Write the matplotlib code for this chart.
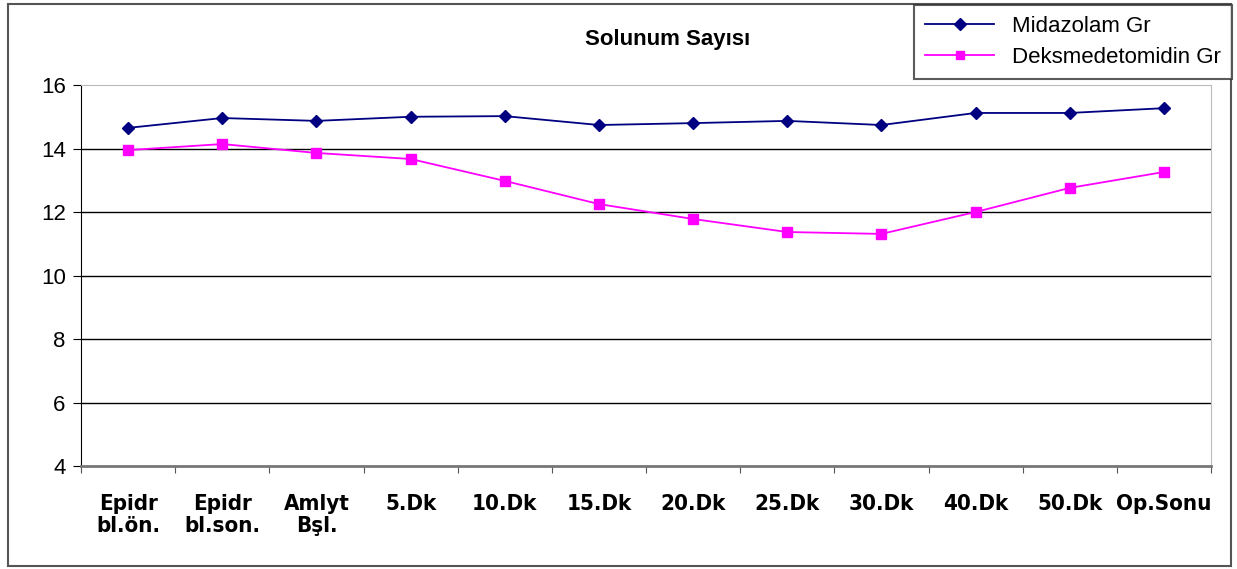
import matplotlib.pyplot as plt
from matplotlib.patches import Rectangle

# data
categories = ['Epidr\nbl.ön.', 'Epidr\nbl.son.', 'Amlyt\nBşl.', '5.Dk', '10.Dk', '15.Dk',
              '20.Dk', '25.Dk', '30.Dk', '40.Dk', '50.Dk', 'Op.Sonu']
midazolam = [14.65, 14.96, 14.87, 15.0, 15.02, 14.74, 14.8, 14.87, 14.74, 15.12, 15.12, 15.27]
dexmed = [13.95, 14.14, 13.86, 13.67, 12.98, 12.25, 11.78, 11.37, 11.31, 12.0, 12.76, 13.26]
yticks = [4, 6, 8, 10, 12, 14, 16]

fig = plt.figure(figsize=(12.37, 5.69), dpi=100)
ax = fig.add_axes([0.0655, 0.181, 0.9135, 0.6696])

x = range(len(categories))
ax.plot(x, midazolam, color='#000080', lw=1.3, marker='D', markersize=6.5, label='Midazolam Gr')
ax.plot(x, dexmed, color='#FF00FF', lw=1.3, marker='s', markersize=7, label='Deksmedetomidin Gr')

ax.set_xlim(-0.5, len(categories) - 0.5)
ax.set_ylim(4, 16)
ax.set_yticks(yticks)
ax.set_yticklabels([str(v) for v in yticks], fontsize=16, family=['Liberation Sans', 'DejaVu Sans'])
for v in yticks[1:-1]:
    ax.axhline(v, color='black', lw=1, zorder=0)

# category boundaries carry the ticks, labels sit in the middle
ax.set_xticks([i - 0.5 for i in range(len(categories) + 1)])
ax.set_xticklabels([])
ax.set_xticks(list(x), minor=True)
ax.set_xticklabels(categories, minor=True, fontsize=16, fontweight='bold', linespacing=1.15,
                   fontstretch='condensed', family=['DejaVu Sans'])
ax.tick_params(axis='x', which='minor', length=0, pad=20)
ax.tick_params(axis='x', which='major', length=5, color='#555555')
ax.tick_params(axis='y', length=6, color='black', pad=5)

ax.spines['left'].set_color('black')
ax.spines['bottom'].set_color('#777777')
ax.spines['bottom'].set_linewidth(2)
ax.spines['top'].set_color('#BBBBBB')
ax.spines['right'].set_color('#BBBBBB')

fig.text(0.54, 0.93, 'Solunum Sayısı', ha='center', va='center', fontsize=16,
         fontweight='bold', family=['Liberation Sans', 'DejaVu Sans'])

# outer frame of the chart
fig.patches.append(Rectangle((0.0065, 0.005), 0.989, 0.988, transform=fig.transFigure,
                             fill=False, edgecolor='#555555', lw=1.5))

leg = fig.legend(loc='upper right', bbox_to_anchor=(0.996, 0.991), borderaxespad=0,
                 frameon=True, fancybox=False, edgecolor='#333333', borderpad=0.5,
                 handlelength=3.1, handletextpad=0.8, labelspacing=0.45, markerscale=0.9,
                 prop={'family': ['Liberation Sans', 'DejaVu Sans'], 'size': 16})
leg.get_frame().set_linewidth(1.5)

fig.savefig('out.png', dpi=100)
